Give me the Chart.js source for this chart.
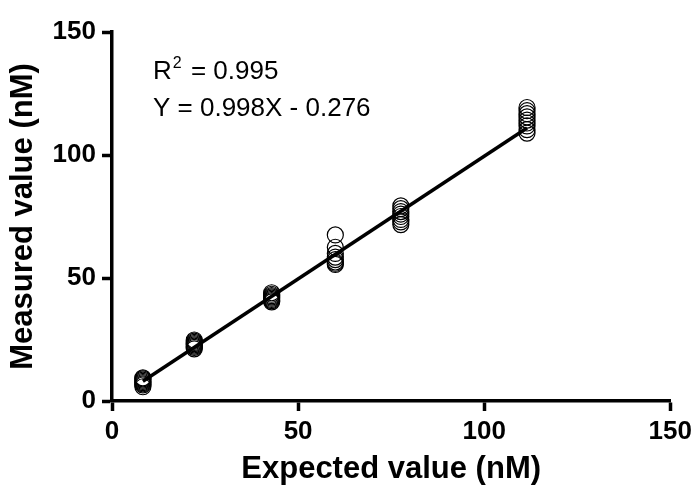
<!DOCTYPE html>
<html>
<head>
<meta charset="utf-8">
<script src="https://cdn.jsdelivr.net/npm/chart.js@4"></script>
<style>
  body { margin: 0; background: #fff; }
</style>
</head>
<body>
<canvas id="fit" width="697" height="490"></canvas>
<script>
// expected concentration of each group (nM)
const expected = [8.3, 22.1, 42.9, 60.0, 77.6, 111.5];

// measured replicates for each group (nM)
const measured = [
  [5.8, 6.5, 7.0, 7.5, 8.0, 8.5, 9.0, 9.4],
  [21.2, 21.8, 22.3, 22.8, 23.3, 23.8, 24.3, 24.8],
  [40.3, 40.8, 41.3, 41.8, 42.3, 42.8, 43.4, 44.0],
  [55.5, 56.0, 56.5, 57.5, 58.5, 60.0, 62.5, 67.5],
  [71.7, 72.8, 73.8, 75.0, 76.0, 77.0, 78.2, 79.3],
  [108.9, 110.3, 111.8, 113.0, 114.2, 115.5, 116.8, 118.0, 119.3]
];

// ends of the fitted line
const fitX = [8.3, 111.5];
const fitY = [8.0, 111.0];

const axisTicks = [0, 50, 100, 150];

const points = [];
expected.forEach((x, i) => {
  measured[i].forEach(y => points.push({ x: x, y: y }));
});
const fitLine = fitX.map((x, i) => ({ x: x, y: fitY[i] }));

const black = '#000';
const tickFont = { family: 'Liberation Sans, Arial, sans-serif', size: 26, weight: 'bold' };
const titleFont = { family: 'Liberation Sans, Arial, sans-serif', size: 31, weight: 'bold' };

const annotations = {
  id: 'annotations',
  afterDraw (chart) {
    const c = chart.ctx;
    const big = '26px "Liberation Sans", Arial, sans-serif';
    c.save();
    c.fillStyle = black;
    c.textBaseline = 'alphabetic';
    c.textAlign = 'left';
    c.font = big;
    c.fillText('R', 153, 79);
    const rw = c.measureText('R').width;
    c.font = '16px "Liberation Sans", Arial, sans-serif';
    c.fillText('2', 153 + rw + 1, 68);
    const sw = c.measureText('2').width;
    c.font = big;
    c.fillText(' = 0.995', 153 + rw + sw + 3, 79);
    c.fillText('Y = 0.998X - 0.276', 153, 116);
    c.restore();
  }
};

function axis (title, fitSize, titlePadding, labelPadding) {
  return {
    type: 'linear',
    min: 0,
    max: 150,
    afterBuildTicks: scale => { scale.ticks = axisTicks.map(v => ({ value: v })); },
    afterFit: fitSize,
    border: { display: true, color: black, width: 3.5 },
    grid: {
      display: true,
      drawOnChartArea: false,
      drawTicks: true,
      tickLength: 10,
      tickWidth: 3.5,
      tickColor: black,
      color: black
    },
    ticks: { color: black, font: tickFont, padding: labelPadding, maxRotation: 0 },
    title: { display: true, text: title, color: black, font: titleFont, padding: titlePadding }
  };
}

new Chart(document.getElementById('fit'), {
  type: 'scatter',
  data: {
    datasets: [
      {
        label: 'Measured',
        data: points,
        pointStyle: 'circle',
        pointRadius: 8,
        pointHoverRadius: 8,
        borderWidth: 1.2,
        borderColor: black,
        backgroundColor: 'rgba(0,0,0,0)'
      },
      {
        label: 'Fit',
        data: fitLine,
        showLine: true,
        pointRadius: 0,
        borderWidth: 3.5,
        borderColor: black,
        backgroundColor: black
      }
    ]
  },
  options: {
    responsive: false,
    animation: false,
    layout: { padding: { top: 32, right: 25, bottom: 0, left: 0 } },
    plugins: {
      legend: { display: false },
      tooltip: { enabled: false }
    },
    scales: {
      x: axis('Expected value (nM)', s => { s.height = 89; }, { top: 0, bottom: 2 }, 5),
      y: axis('Measured value (nM)', s => { s.width = 112; }, { top: 5, bottom: 0 }, 6)
    }
  },
  plugins: [annotations]
});
</script>
</body>
</html>
